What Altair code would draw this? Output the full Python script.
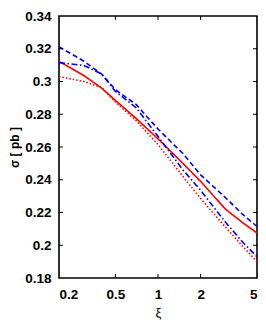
import altair as alt
import pandas as pd

# x values (xi) and cross sections (pb)
xi = [0.2, 0.3, 0.4, 0.5, 0.7, 1, 1.5, 2, 3, 4, 5]
blue_dashed = [0.3212, 0.3124, 0.3045, 0.2950, 0.2860, 0.2710, 0.2560, 0.2430, 0.2290, 0.2185, 0.2115]
red_solid = [0.3123, 0.3036, 0.2960, 0.2885, 0.2775, 0.2650, 0.2500, 0.2390, 0.2220, 0.2135, 0.2075]
blue_dashdot = [0.3115, 0.3098, 0.3046, 0.2940, 0.2840, 0.2665, 0.2460, 0.2335, 0.2140, 0.2015, 0.1930]
red_dotted = [0.3030, 0.3000, 0.2962, 0.2875, 0.2762, 0.2615, 0.2420, 0.2285, 0.2110, 0.1990, 0.1900]

series_names = ["blue dashed", "red solid", "blue dash-dot", "red dotted"]
series_colors = ["#0000ff", "#ff0000", "#0000ff", "#ff0000"]
series_dashes = [[5, 3], [1, 0], [6, 2.5, 1.5, 2.5], [1.5, 2]]

x_ticks = [0.2, 0.5, 1, 2, 5]
y_ticks = [0.18, 0.2, 0.22, 0.24, 0.26, 0.28, 0.3, 0.32, 0.34]
x_inner_ticks = [0.5, 1, 2]
y_inner_ticks = [0.2, 0.22, 0.24, 0.26, 0.28, 0.3, 0.32]

rows = []
for name, vals in zip(series_names, [blue_dashed, red_solid, blue_dashdot, red_dotted]):
    for x, v in zip(xi, vals):
        rows.append({"xi": x, "sigma": v, "series": name})
df = pd.DataFrame(rows)

x_scale = alt.Scale(type="log", domain=[0.2, 5], nice=False)
y_scale = alt.Scale(domain=[0.18, 0.34], nice=False, zero=False)

x_axis = alt.Axis(values=x_ticks, format="~g", title="ξ",
                  labelPadding=9, titlePadding=6,
                  titleFontSize=13, titleFontWeight="normal")
y_axis = alt.Axis(values=y_ticks, format="~g", title="σ [ pb ]",
                  labelPadding=8, titlePadding=3,
                  titleFontSize=12, titleFontWeight="bold")

lines = alt.Chart(df).mark_line(strokeWidth=1.6, clip=True).encode(
    x=alt.X("xi:Q", scale=x_scale, axis=x_axis),
    y=alt.Y("sigma:Q", scale=y_scale, axis=y_axis),
    color=alt.Color("series:N", scale=alt.Scale(domain=series_names, range=series_colors), legend=None),
    strokeDash=alt.StrokeDash("series:N", scale=alt.Scale(domain=series_names, range=series_dashes), legend=None),
)

xt = pd.DataFrame({"xt": x_inner_ticks})
yt = pd.DataFrame({"yt": y_inner_ticks})

tick_x_bottom = alt.Chart(xt).mark_rule(color="black", strokeWidth=1).encode(
    x=alt.X("xt:Q", scale=x_scale, axis=x_axis), y=alt.value(262), y2=alt.value(258))
tick_x_top = alt.Chart(xt).mark_rule(color="black", strokeWidth=1).encode(
    x=alt.X("xt:Q", scale=x_scale, axis=x_axis), y=alt.value(0), y2=alt.value(4))
tick_y_left = alt.Chart(yt).mark_rule(color="black", strokeWidth=1).encode(
    y=alt.Y("yt:Q", scale=y_scale, axis=y_axis), x=alt.value(0), x2=alt.value(4))
tick_y_right = alt.Chart(yt).mark_rule(color="black", strokeWidth=1).encode(
    y=alt.Y("yt:Q", scale=y_scale, axis=y_axis), x=alt.value(198), x2=alt.value(194))

chart = alt.layer(lines, tick_x_bottom, tick_x_top, tick_y_left, tick_y_right).properties(
    width=198, height=262, autosize="none",
    padding={"left": 51, "top": 8, "right": 1, "bottom": 48},
).configure_view(
    stroke="black", strokeWidth=1.6
).configure_axis(
    domain=False, ticks=False, grid=False,
    labelFont="Liberation Sans", labelFontWeight="bold", labelFontSize=13.5, labelColor="black",
    titleFont="Liberation Sans", titleColor="black",
)

chart.save("out.html", embed_options={"renderer": "svg", "actions": False})
